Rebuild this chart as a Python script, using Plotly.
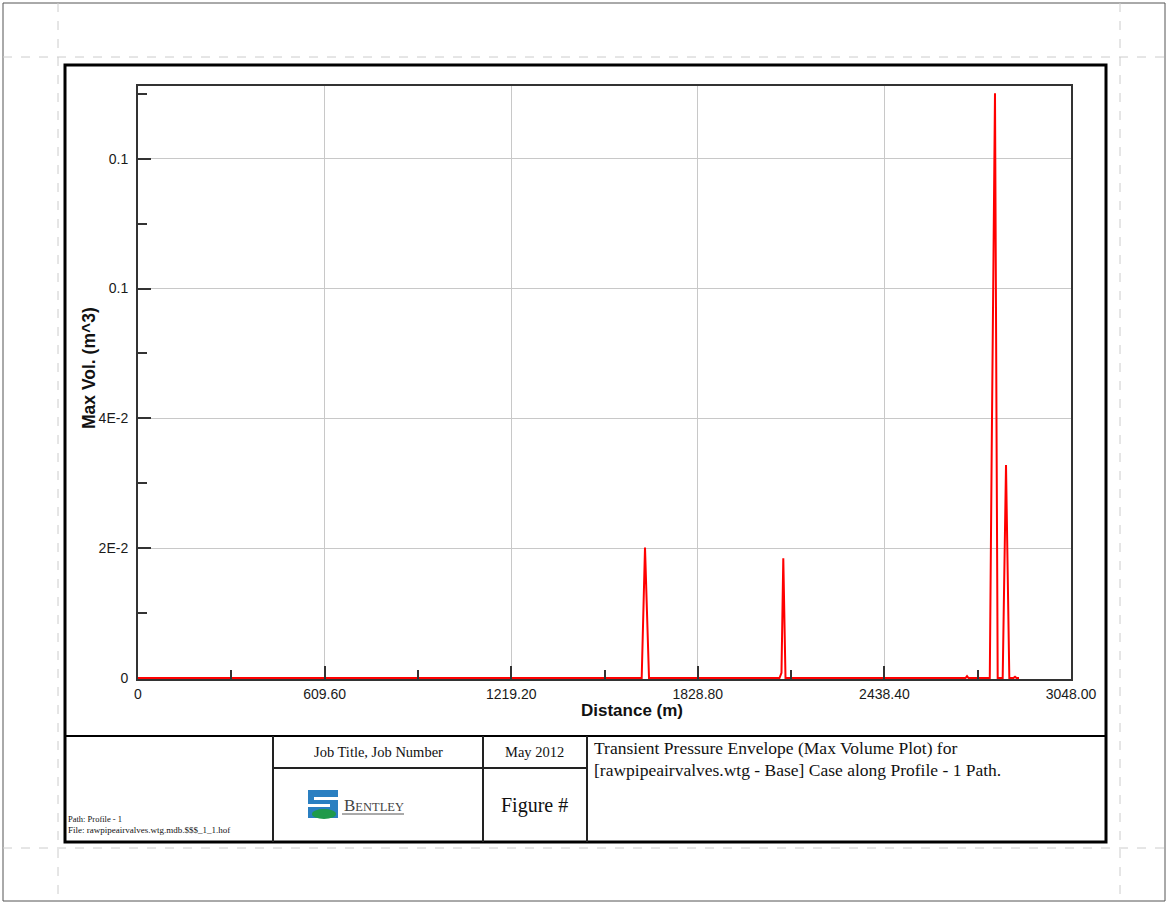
import plotly.graph_objects as go

# ---------------- data ----------------
distance_m = [0, 1645.5, 1656.3, 1669.4, 2095.7, 2102.2, 2108.1, 2115.3,
              2703.4, 2708.3, 2713.2, 2782.7, 2788.9, 2799.7, 2808.5,
              2824.8, 2835.7, 2846.5, 2860.0, 2865.1, 2870.0, 2878.2]
max_vol_m3 = [0, 0, 0.0201, 0, 0, 0.0008, 0.01845, 0,
              0, 0.0003, 0, 0, 0.0347, 0.0901, 0,
              0, 0.0328, 0, 0, 0.0002, 0, 0]

x_tick_vals = [0, 609.6, 1219.2, 1828.8, 2438.4, 3048.0]
x_tick_text = ["0", "609.60", "1219.20", "1828.80", "2438.40", "3048.00"]
x_minor_vals = [304.8, 914.4, 1524.0, 2133.6, 2743.2]
y_tick_vals = [0, 0.02, 0.04, 0.06, 0.08]
y_tick_text = ["0", "2E-2", "4E-2", "0.1", "0.1"]
y_minor_vals = [0.01, 0.03, 0.05, 0.07, 0.09]

W, H = 1167, 903


def px(x):
    return x / W


def py(y):
    return 1 - y / H


fig = go.Figure()
fig.add_trace(go.Scatter(x=distance_m, y=max_vol_m3, mode="lines",
                         line=dict(color="#ff0000", width=2), showlegend=False,
                         hoverinfo="x+y"))

axis_font = dict(family="Arial, Liberation Sans, sans-serif", size=14, color="#1a1a1a")

fig.update_layout(
    template="none",
    width=W, height=H, autosize=False,
    margin=dict(l=0, r=0, t=0, b=0, pad=0),
    paper_bgcolor="white", plot_bgcolor="white",
    showlegend=False,
    xaxis=dict(
        domain=[px(138), px(1071)], automargin=False,
        range=[0, 3048], autorange=False,
        tickmode="array", tickvals=x_tick_vals, ticktext=x_tick_text,
        ticks="inside", ticklen=13, tickwidth=2, tickcolor="#333333",
        ticklabelstandoff=1,
        showgrid=True, gridcolor="#c8c8c8", gridwidth=1,
        zeroline=False,
        showline=True, linecolor="#333333", linewidth=2, mirror=True,
        tickfont=axis_font,
        minor=dict(tickmode="array", tickvals=x_minor_vals, ticks="inside",
                   ticklen=9, tickwidth=2, tickcolor="#333333", showgrid=False),
    ),
    yaxis=dict(
        domain=[py(679), py(86)], automargin=False,
        range=[-0.00015, 0.0912], autorange=False,
        tickmode="array", tickvals=y_tick_vals, ticktext=y_tick_text,
        ticks="inside", ticklen=13, tickwidth=2, tickcolor="#333333",
        ticklabelstandoff=5,
        showgrid=True, gridcolor="#c8c8c8", gridwidth=1,
        zeroline=False,
        showline=True, linecolor="#333333", linewidth=2, mirror=True,
        tickfont=axis_font,
        minor=dict(tickmode="array", tickvals=y_minor_vals, ticks="inside",
                   ticklen=9, tickwidth=2, tickcolor="#333333", showgrid=False),
    ),
)

shapes = []


def line(x0, y0, x1, y1, color="#000000", width=2, dash="solid"):
    shapes.append(dict(type="line", xref="paper", yref="paper",
                       x0=px(x0), y0=py(y0), x1=px(x1), y1=py(y1),
                       line=dict(color=color, width=width, dash=dash), layer="above"))


# page border and dashed margin guides
shapes.append(dict(type="rect", xref="paper", yref="paper",
                   x0=px(3), y0=py(901), x1=px(1165), y1=py(3),
                   line=dict(color="#555555", width=1), layer="below"))
line(3, 57, 1167, 57, "#cccccc", 1, "dash")
line(3, 848, 1167, 848, "#cccccc", 1, "dash")
line(58, 3, 58, 901, "#cccccc", 1, "dash")
line(1120, 3, 1120, 901, "#cccccc", 1, "dash")

# drawing frame
shapes.append(dict(type="rect", xref="paper", yref="paper",
                   x0=px(65), y0=py(842), x1=px(1106), y1=py(65),
                   line=dict(color="#000000", width=3), layer="above"))
line(65, 736, 1106, 736, "#000000", 2)
line(273, 736, 273, 842, "#222222", 2)
line(483, 736, 483, 842, "#222222", 2)
line(587, 736, 587, 842, "#222222", 2)
line(273, 768, 587, 768, "#222222", 2)

# Bentley logo (approximate)
shapes.append(dict(type="rect", xref="paper", yref="paper",
                   x0=px(308), y0=py(818), x1=px(338), y1=py(790),
                   line=dict(width=0), fillcolor="#2a7fc1", layer="above"))
shapes.append(dict(type="rect", xref="paper", yref="paper",
                   x0=px(314), y0=py(800), x1=px(338), y1=py(797),
                   line=dict(width=0), fillcolor="white", layer="above"))
shapes.append(dict(type="rect", xref="paper", yref="paper",
                   x0=px(308), y0=py(807), x1=px(330), y1=py(804),
                   line=dict(width=0), fillcolor="white", layer="above"))
shapes.append(dict(type="circle", xref="paper", yref="paper",
                   x0=px(312), y0=py(819), x1=px(336), y1=py(809),
                   line=dict(width=0), fillcolor="#1f9a4a", layer="above"))
line(342, 814, 404, 814, "#555555", 1)

fig.update_layout(shapes=shapes)

annotations = []


def text(x, y, s, size, family="Times New Roman, Liberation Serif, serif",
         color="#111111", xanchor="center", yanchor="middle", angle=0):
    annotations.append(dict(xref="paper", yref="paper", x=px(x), y=py(y),
                            text=s, showarrow=False, xanchor=xanchor, yanchor=yanchor,
                            textangle=angle, font=dict(family=family, size=size, color=color)))


text(632, 710, "<b>Distance (m)</b>", 17, family="Arial, Liberation Sans, sans-serif")
text(89, 368, "<b>Max Vol. (m^3)</b>", 17.5, family="Arial, Liberation Sans, sans-serif", angle=-90)

text(378, 752, "Job Title, Job Number", 14.5)
text(534, 752, "May 2012", 14.5)
text(534, 805, "Figure #", 20)
text(342, 805, "B<span style='font-size:12.5px'>ENTLEY</span>", 17, color="#444444", xanchor="left")
text(592, 748, "Transient Pressure Envelope (Max Volume Plot) for", 17.5, xanchor="left")
text(592, 770, "[rawpipeairvalves.wtg - Base] Case along Profile - 1 Path.", 17.5, xanchor="left")
text(66, 819, "Path: Profile - 1", 8.5, xanchor="left")
text(66, 830, "File: rawpipeairvalves.wtg.mdb.$$$_1_1.hof", 9, xanchor="left")

fig.update_layout(annotations=annotations)

fig.write_html("out.html", config={"displayModeBar": False},
               post_script="document.body.style.margin='0px';")
